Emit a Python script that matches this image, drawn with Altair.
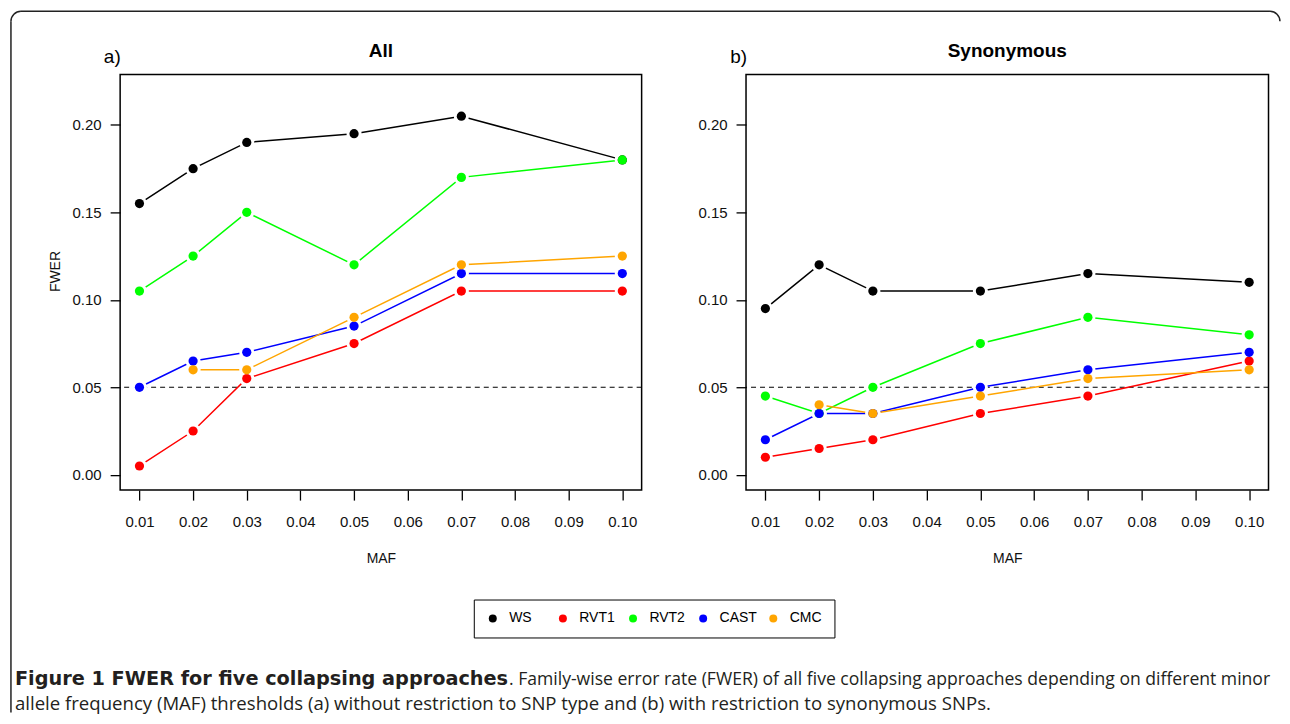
import altair as alt
import pandas as pd

# ---------------- data ----------------
maf = [0.01, 0.02, 0.03, 0.05, 0.07, 0.10]
methods = ["WS", "RVT1", "RVT2", "CAST", "CMC"]
colors = ["#000000", "#FF0000", "#00FF00", "#0000FF", "#FFA500"]

all_ws = [0.155, 0.175, 0.190, 0.195, 0.205, 0.180]
all_rvt1 = [0.005, 0.025, 0.055, 0.075, 0.105, 0.105]
all_rvt2 = [0.105, 0.125, 0.150, 0.120, 0.170, 0.180]
all_cast = [0.050, 0.065, 0.070, 0.085, 0.115, 0.115]
all_cmc = [None, 0.060, 0.060, 0.090, 0.120, 0.125]

syn_ws = [0.095, 0.120, 0.105, 0.105, 0.115, 0.110]
syn_rvt1 = [0.010, 0.015, 0.020, 0.035, 0.045, 0.065]
syn_rvt2 = [0.045, 0.035, 0.050, 0.075, 0.090, 0.080]
syn_cast = [0.020, 0.035, 0.035, 0.050, 0.060, 0.070]
syn_cmc = [None, 0.040, 0.035, 0.045, 0.055, 0.060]

threshold = [0.05]
x_ticks = [0.01, 0.02, 0.03, 0.04, 0.05, 0.06, 0.07, 0.08, 0.09, 0.10]
y_ticks = [0.00, 0.05, 0.10, 0.15, 0.20]

caption_bold = "Figure 1 FWER for five collapsing approaches"
caption_rest1 = (". Family-wise error rate (FWER) of all five collapsing approaches "
                 "depending on different minor")
caption_line2 = ("allele frequency (MAF) thresholds (a) without restriction to SNP type "
                 "and (b) with restriction to synonymous SNPs.")


def to_long(series):
    rows = []
    for k, (m, vals) in enumerate(zip(methods, series)):
        for x, v in zip(maf, vals):
            if v is not None:
                rows.append({"method": m, "k": k, "maf": x, "fwer": v})
    return pd.DataFrame(rows)


df_all = to_long([all_ws, all_rvt1, all_rvt2, all_cast, all_cmc])
df_syn = to_long([syn_ws, syn_rvt1, syn_rvt2, syn_cast, syn_cmc])

FONT = "Liberation Sans"
CAP_FONT = "Open Sans"
CAP_BOLD_FONT = "DejaVu Sans"
CAP_COLOR = "#231F20"
XDOM = [0.0064, 0.1036]
YDOM = [-0.0088, 0.2288]
H = 416
W_L = 522
W_R = 523
SPACING = 104.5
OX, OY = 119.3, 73.3   # page position of the left plot's top-left corner


def text_layer(txt, x, y, size, weight="normal", align="left", font=FONT, color="#000000"):
    return alt.Chart(pd.DataFrame({"t": [txt]})).mark_text(
        align=align, baseline="alphabetic", font=font, fontSize=size,
        fontWeight=weight, color=color
    ).encode(x=alt.value(x), y=alt.value(y), text="t:N")


def panel(df, width, ytitle, legend, title, label):
    xaxis = alt.Axis(values=x_ticks, format=".2f", title="MAF", titleX=width / 2,
                     titleY=68.7, titleBaseline="middle", titleAlign="center",
                     labelPadding=14)
    if ytitle:
        yaxis = alt.Axis(values=y_ticks, format=".2f", title="FWER", titleX=-64.3,
                         titleY=196.7, titleAngle=270, titleBaseline="middle",
                         titleAlign="center", labelPadding=9)
    else:
        yaxis = alt.Axis(values=y_ticks, format=".2f", title=None, labelPadding=9)

    x = alt.X("maf:Q", scale=alt.Scale(domain=XDOM, nice=False, zero=False), axis=xaxis)
    y = alt.Y("fwer:Q", scale=alt.Scale(domain=YDOM, nice=False, zero=False), axis=yaxis)

    rule = alt.Chart(pd.DataFrame({"fwer": threshold})).mark_rule(
        color="#000000", strokeWidth=1.2, strokeDash=[5, 4]
    ).encode(y=alt.Y("fwer:Q"))

    base = alt.Chart(df)
    lines = base.mark_line(strokeWidth=1.5).encode(
        x=x, y=y,
        stroke=alt.Stroke("k:N", scale=alt.Scale(domain=[0, 1, 2, 3, 4], range=colors),
                          legend=None),
        order="maf:Q",
    )
    halos = base.mark_circle(size=230, color="#FFFFFF", opacity=1).encode(x=x, y=y)
    dots = base.mark_circle(size=85, opacity=1).encode(
        x=x, y=y,
        fill=alt.Fill("method:N", scale=alt.Scale(domain=methods, range=colors), legend=legend),
        order="k:Q",
    )
    return [rule, lines, halos, dots,
            text_layer(title, width / 2, -17.3, 19, weight="bold", align="center"),
            text_layer(label[0], label[1], -11.6, 19)]


legend = alt.Legend(
    title=None, orient="none", legendX=354, legendY=525.5, direction="horizontal",
    columns=5, gridAlign="all", symbolType="circle", symbolSize=64,
    symbolStrokeWidth=0, symbolOpacity=1, labelFont=FONT, labelFontSize=14,
    labelColor="#000000", labelOffset=9.4, columnPadding=9.2, padding=12,
    strokeColor="#000000", fillColor="#FFFFFF",
)

# outer figure frame (top and left edges with rounded corners)
one = pd.DataFrame({"b": [0]})
BC = "#222222"
TR = 1270.25
frame = [
    alt.Chart(one).mark_rule(color=BC, strokeWidth=1.5).encode(
        x=alt.value(20 - OX), x2=alt.value(TR - OX), y=alt.value(10 - OY)),
    alt.Chart(one).mark_rule(color=BC, strokeWidth=1.5).encode(
        x=alt.value(10 - OX), y=alt.value(20 - OY), y2=alt.value(712 - OY)),
    alt.Chart(one).mark_arc(color=BC).encode(
        x=alt.value(20 - OX), y=alt.value(20 - OY),
        theta=alt.value(4.71239), theta2=alt.value(6.28318),
        radius=alt.value(10.75), radius2=alt.value(9.25)),
    alt.Chart(one).mark_arc(color=BC).encode(
        x=alt.value(TR - OX), y=alt.value(20 - OY),
        theta=alt.value(0), theta2=alt.value(1.5708),
        radius=alt.value(10.75), radius2=alt.value(9.25)),
]

caption = [
    text_layer(caption_bold, 14 - OX, 684 - OY, 19.3, weight="bold", font=CAP_BOLD_FONT,
               color=CAP_COLOR),
    text_layer(caption_rest1, 508.5 - OX, 684 - OY, 17.6, font=CAP_FONT, color=CAP_COLOR),
    text_layer(caption_line2, 14 - OX, 709 - OY, 18.6, font=CAP_FONT, color=CAP_COLOR),
]

left = alt.layer(*(frame + panel(df_all, W_L, True, legend, "All", ("a)", -16.3)) + caption)
                 ).properties(width=W_L, height=H)

right = alt.layer(*panel(df_syn, W_R, False, None, "Synonymous", ("b)", -15.8))).properties(
    width=W_R, height=H)

chart = alt.HConcatChart(
    hconcat=[left, right], spacing=SPACING, bounds="flush",
    padding={"left": 1.25, "top": 1.25, "right": 0, "bottom": 0},
).resolve_scale(
    fill="independent", stroke="independent"
).resolve_legend(
    fill="independent"
).configure_view(
    stroke="#000000", strokeWidth=1.5
).configure_axis(
    domain=False, grid=False, ticks=True, tickSize=10, tickWidth=1.3, tickColor="#000000",
    labelFont=FONT, labelFontSize=15, labelColor="#111111",
    titleFont=FONT, titleFontSize=14, titleFontWeight="normal", titleColor="#111111",
)

chart.save("out.html", embed_options={"renderer": "svg", "actions": False})
